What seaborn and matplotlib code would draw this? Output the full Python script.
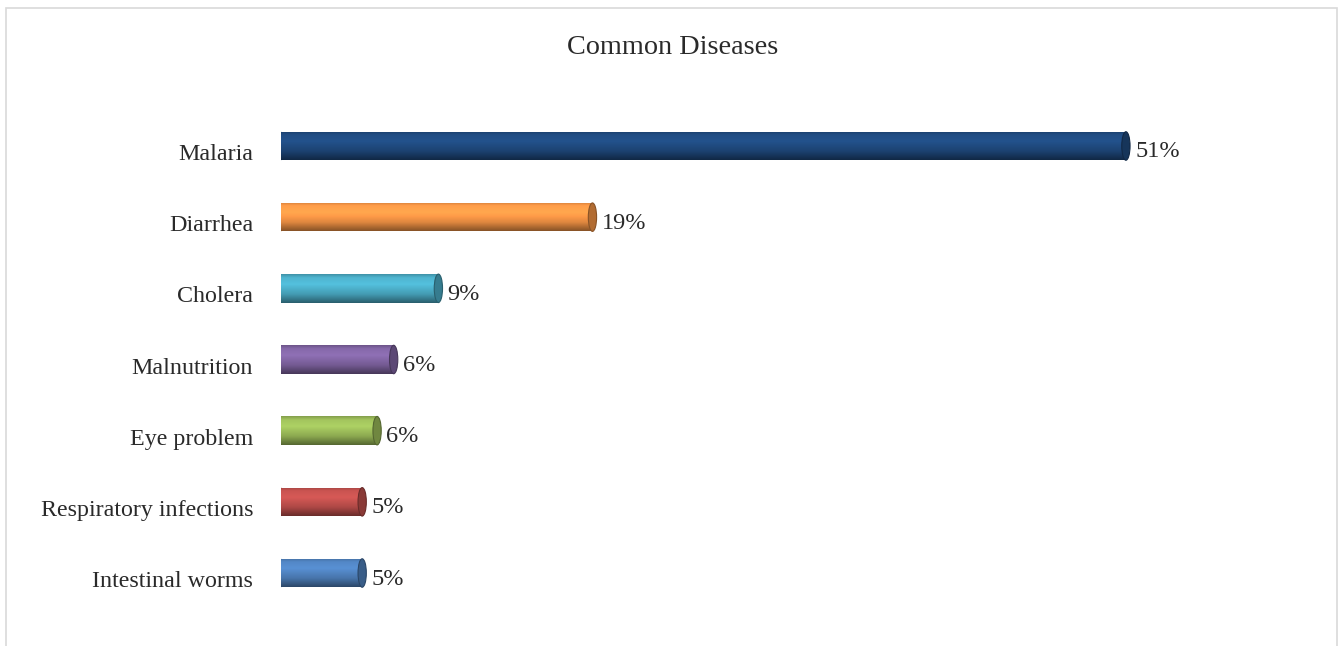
import numpy as np
import pandas as pd
import matplotlib
matplotlib.use("Agg")
import matplotlib.pyplot as plt
import matplotlib.transforms as mtransforms
import seaborn as sns
from matplotlib.patches import Ellipse, Rectangle
from matplotlib.colors import to_rgb

diseases = ["Malaria", "Diarrhea", "Cholera", "Malnutrition", "Eye problem",
            "Respiratory infections", "Intestinal worms"]
# bar lengths as drawn in the picture
bar_length = [51, 18.8, 9.5, 6.8, 5.8, 4.9, 4.9]
# printed data labels
value_labels = ["51%", "19%", "9%", "6%", "6%", "5%", "5%"]
bar_colors = ["#1F497D", "#F79646", "#4BACC6", "#8064A2", "#9BBB59", "#C0504D", "#4F81BD"]
title = "Common Diseases"

sns.set_style("white")
plt.rcParams["font.family"] = ["Liberation Serif", "DejaVu Serif"]

df = pd.DataFrame({"disease": diseases, "pct": bar_length})

fig = plt.figure(figsize=(13.42, 6.46), dpi=100)
ax = fig.add_axes([281 / 1342, 1 - 608.6 / 646, 994 / 1342, 498.2 / 646])

sns.barplot(data=df, y="disease", x="pct", hue="disease", palette=bar_colors,
            legend=False, width=0.4, ax=ax, saturation=1, edgecolor="none")

down = mtransforms.ScaledTranslation(0, -6 / 100, fig.dpi_scale_trans)

# cylinder-like shading
prof_y = np.linspace(0, 1, 64)
factor = np.interp(prof_y, [0, 0.12, 0.35, 0.7, 1.0], [0.85, 1.05, 1.12, 0.9, 0.55])
for i, (patch, col) in enumerate(zip(ax.patches, bar_colors)):
    x0, y0 = patch.get_x(), patch.get_y()
    w, h = patch.get_width(), patch.get_height()
    base = np.array(to_rgb(col))
    img = np.clip(base[None, None, :] * factor[:, None, None], 0, 1)
    im = ax.imshow(img, extent=[x0, x0 + w, y0 + h, y0], origin="upper",
                   aspect="auto", zorder=patch.get_zorder() + 0.1)
    im.set_clip_path(patch)
    cap_col = np.clip(base * 0.72, 0, 1)
    ax.add_patch(Ellipse((x0 + w, y0 + h / 2), 0.5, h, facecolor=cap_col,
                         edgecolor=np.clip(base * 0.55, 0, 1), linewidth=0.8,
                         zorder=patch.get_zorder() + 0.2))
    ax.add_patch(Ellipse((x0, y0 + h / 2), 0.3, h, facecolor=base * 0.95,
                         edgecolor="none", zorder=patch.get_zorder() - 0.1))
    t = ax.text(x0 + w + 0.55, y0 + h / 2, value_labels[i],
                va="center", ha="left", fontsize=17.5, color="#2a2a2a")
    t.set_transform(t.get_transform() + down)

ax.set_xlim(0, 60)
ax.set_ylim(6.5, -0.5)
ax.set_xlabel("")
ax.set_ylabel("")
ax.set_xticks([])
ax.tick_params(axis="y", length=0, pad=20, labelsize=17.3, labelcolor="#2a2a2a")
for lab in ax.get_yticklabels():
    lab.set_transform(lab.get_transform() + down)
for s in ax.spines.values():
    s.set_visible(False)

fig.text(673 / 1342, 1 - 47 / 646, title, ha="center", va="center",
         fontsize=20.3, color="#2a2a2a")

fig.patches.append(Rectangle((6 / 1342, -0.02), 1331 / 1342, 1.02 - 8 / 646,
                             transform=fig.transFigure, fill=False,
                             edgecolor="#D9D9D9", linewidth=1.2))

fig.savefig("out.png", dpi=100)
